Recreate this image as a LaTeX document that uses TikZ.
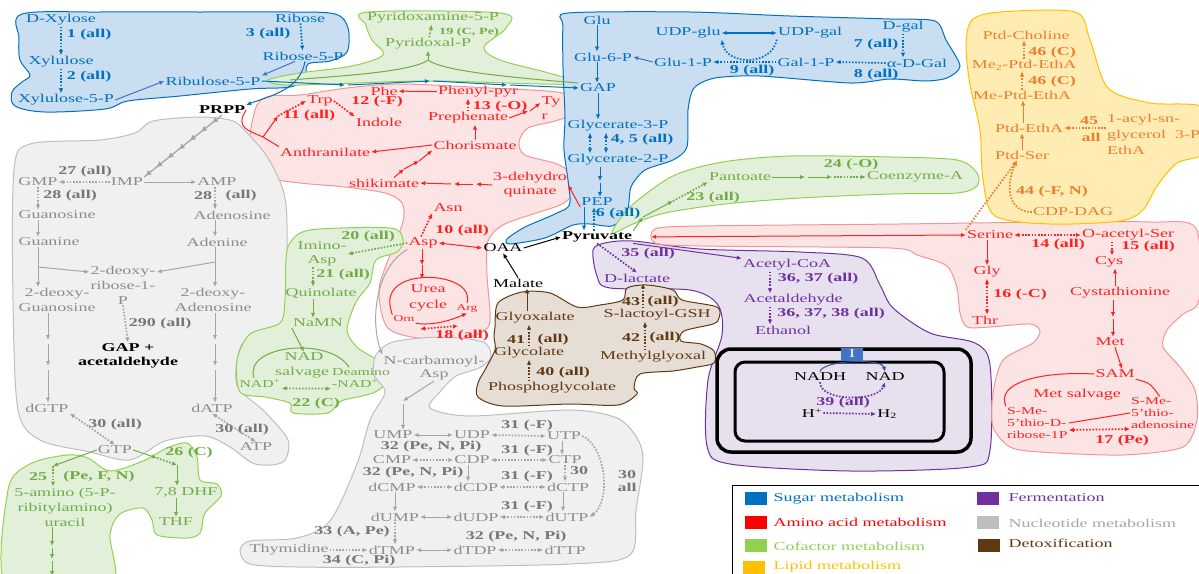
\documentclass[tikz,border=0pt]{standalone}
\usepackage{fontspec}
\setmainfont{Liberation Serif}[FakeStretch=1.5]
\usetikzlibrary{arrows.meta,decorations.markings}

\definecolor{sugC}{RGB}{0,112,192}
\definecolor{sugF}{RGB}{201,222,240}
\definecolor{amiC}{RGB}{255,32,32}
\definecolor{amiB}{RGB}{240,150,150}
\definecolor{amiF}{RGB}{252,228,228}
\definecolor{cofC}{RGB}{112,173,71}
\definecolor{cofB}{RGB}{146,208,80}
\definecolor{cofF}{RGB}{226,240,217}
\definecolor{lipC}{RGB}{237,125,49}
\definecolor{lipB}{RGB}{255,192,0}
\definecolor{lipF}{RGB}{255,236,178}
\definecolor{ferC}{RGB}{112,48,160}
\definecolor{ferF}{RGB}{231,225,239}
\definecolor{nucC}{RGB}{140,140,140}
\definecolor{nucA}{RGB}{166,166,166}
\definecolor{nucB}{RGB}{190,190,190}
\definecolor{nucF}{RGB}{240,240,240}
\definecolor{detC}{RGB}{96,57,19}
\definecolor{detF}{RGB}{230,221,213}
\definecolor{etcF}{RGB}{68,114,196}
\definecolor{etcC}{RGB}{47,85,151}

\newcommand{\mfont}{\fontsize{12}{13}\selectfont}
\newcommand{\smfont}{\fontsize{10.5}{12}\selectfont}
\newcommand{\tnfont}{\fontsize{9}{10}\selectfont}

\tikzset{
  met/.style={inner sep=1pt},
  bold/.style={font=\mfont\bfseries},
  sug/.style={met, text=sugC}, sugl/.style={sug, bold},
  ami/.style={met, text=amiC}, amil/.style={ami, bold},
  cof/.style={met, text=cofC}, cofl/.style={cof, bold},
  lip/.style={met, text=lipC}, lipl/.style={lip, bold},
  fer/.style={met, text=ferC}, ferl/.style={fer, bold},
  nuc/.style={met, text=nucC}, nucl/.style={met, text=nucC!85!black, bold},
  det/.style={met, text=detC}, detl/.style={det, bold},
  ar/.style={-{Latex[length=5pt,width=4.5pt]}, line width=1pt},
  dar/.style={{Latex[length=5pt,width=4.5pt]}-{Latex[length=5pt,width=4.5pt]}, line width=1pt},
  dt/.style={line width=1.7pt, dash pattern=on 1.6pt off 1.6pt},
  blob/.style={line width=1pt},
  keybox/.style={minimum width=22pt, minimum height=13pt, inner sep=0pt}
}

\begin{document}
\begin{tikzpicture}[x=1pt,y=-1pt,font=\mfont]
    \useasboundingbox (0,0) rectangle (1199,573);
    \clip (0,0) rectangle (1199,573);

    % Regions of the map
    \draw[blob,sugC,fill=sugF] plot[smooth cycle,tension=.55] coordinates {(22,14) (100,12) (200,12) (290,12) (335,14) (348,28) (347,52) (330,61) (308,64) (305,78) (290,87) (250,89) (180,96) (128,101) (105,109) (45,112) (15,106) (12,92) (22,82) (30,75) (20,60) (19,38)};
    \draw[blob,cofB,fill=cofF] plot[smooth cycle,tension=.55] coordinates {(368,12) (500,13) (506,28) (484,47) (500,60) (545,72) (580,83) (540,84) (430,81) (330,84) (285,85) (268,80) (300,73) (352,66) (383,55) (372,40) (366,25)};
    \draw[blob,amiB,fill=amiF] plot[smooth cycle,tension=.5] coordinates {(257,105) (270,96) (300,95) (347,88) (400,84) (490,88) (557,92) (573,100) (575,113) (555,121) (528,128) (519,142) (525,155) (557,164) (573,176) (572,195) (560,205) (533,214) (503,225) (488,241) (487,275) (490,322) (478,334) (457,339) (417,338) (387,327) (379,290) (390,255) (403,222) (402,203) (385,193) (345,187) (300,183) (265,177) (252,161) (250,135)};
    \draw[blob,nucB,fill=nucF] plot[smooth cycle,tension=.5] coordinates {(153,121) (200,117) (233,121) (250,136) (268,158) (283,190) (287,225) (284,317) (262,333) (241,346) (237,385) (265,412) (288,440) (283,462) (255,464) (230,447) (205,436) (165,441) (130,460) (90,452) (40,440) (18,410) (13,300) (14,170) (30,144) (100,140) (135,133)};
    \draw[blob,cofB,fill=cofF] plot[smooth cycle,tension=.5] coordinates {(8,490) (30,464) (67,455) (88,458) (110,471) (143,461) (167,448) (187,443) (197,457) (200,480) (217,484) (221,496) (205,513) (200,533) (187,538) (157,535) (152,520) (143,508) (120,514) (110,535) (110,590) (8,590)};
    \draw[blob,cofB,fill=cofF] plot[smooth cycle,tension=.5] coordinates {(290,243) (310,230) (390,228) (403,240) (397,252) (376,260) (370,283) (356,302) (347,330) (358,348) (385,365) (389,380) (373,393) (341,401) (328,413) (293,413) (290,403) (265,397) (240,392) (237,360) (250,334) (280,323) (285,300) (286,260)};
    \draw[blob,nucB,fill=nucF] plot[smooth cycle,tension=.5] coordinates {(376,355) (393,342) (440,337) (483,342) (491,357) (479,368) (456,376) (440,392) (430,408) (470,416) (570,410) (617,418) (637,438) (643,461) (636,510) (630,555) (570,564) (400,567) (297,567) (250,564) (240,551) (250,541) (297,538) (330,521) (357,464) (370,420) (385,392) (374,375)};
    \draw[blob,ferC,fill=ferF] plot[smooth cycle,tension=.5] coordinates {(633,241) (700,249) (800,252) (862,258) (880,285) (893,308) (930,333) (975,343) (990,365) (990,450) (970,467) (850,471) (730,464) (707,446) (708,380) (722,335) (718,305) (690,290) (610,288) (597,276) (593,250) (605,243)};
    \draw[blob,detC,fill=detF] plot[smooth cycle,tension=.5] coordinates {(498,303) (522,292) (550,293) (577,307) (600,305) (623,300) (627,288) (647,285) (673,290) (682,300) (717,307) (719,318) (713,324) (684,331) (681,341) (701,344) (714,351) (714,363) (697,367) (673,371) (640,374) (634,388) (637,394) (618,405) (570,404) (503,406) (478,397) (478,383) (486,368) (495,350) (494,337) (495,327)};
    \draw[blob,sugC,fill=sugF] plot[smooth cycle,tension=.45] coordinates {(568,13) (690,12) (790,16) (890,19) (935,21) (946,40) (960,66) (947,78) (925,81) (890,79) (850,83) (760,76) (715,78) (694,88) (688,110) (687,147) (673,160) (645,170) (631,187) (627,214) (612,226) (590,224) (573,225) (545,238) (510,244) (507,239) (525,227) (557,213) (570,202) (564,150) (565,117) (563,67) (563,25)};
    \draw[blob,cofB,fill=cofF] plot[smooth cycle,tension=.5] coordinates {(612,233) (630,207) (673,176) (723,162) (790,156) (890,157) (957,160) (977,173) (977,186) (957,193) (890,194) (800,198) (725,204) (665,213) (633,224)};
    \draw[blob,amiB,fill=amiF] plot[smooth cycle,tension=.45] coordinates {(655,229) (700,226) (900,224) (1050,222) (1150,222) (1196,228) (1199,300) (1183,314) (1167,330) (1163,347) (1180,367) (1195,390) (1197,420) (1183,447) (1123,455) (1040,452) (1010,447) (993,427) (993,393) (1003,360) (1033,343) (1040,331) (1030,324) (990,327) (967,327) (960,313) (957,288) (947,266) (917,255) (890,248) (700,246) (655,243)};
    \draw[blob,lipB,fill=lipF] plot[smooth cycle,tension=.5] coordinates {(966,45) (972,20) (1000,12) (1075,12) (1090,40) (1108,88) (1150,103) (1205,108) (1205,152) (1177,163) (1157,186) (1143,210) (1120,221) (1050,224) (995,216) (983,180) (980,130) (970,85)};

    % Pentose sugars
    \node[sug] (dxyl) at (61,20) {D-Xylose};
    \node[sug] (xylu) at (61,62) {Xylulose};
    \node[sug] (xyl5p) at (66,100) {Xylulose-5-P};
    \node[sug] (ribul) at (213,81) {Ribulose-5-P};
    \node[sug] (rib) at (300,18) {Ribose};
    \node[sug] (rib5p) at (303,56) {Ribose-5-P};
    \node[sugl] (l1) at (89,35) {1 (all)};
    \node[sugl] (l2) at (89,77) {2 (all)};
    \node[sugl] (l3) at (268,34) {3 (all)};
    \node[met,bold] (prpp) at (222,110) {PRPP};
    \draw[ar,dt,sugC] (dxyl) -- (xylu);
    \draw[ar,dt,sugC] (xylu.south) -- (xylu.south |- xyl5p.north);
    \draw[ar,dt,sugC] (rib) -- (rib5p);
    \draw[ar,etcF] (xyl5p.east) -- (ribul.west);
    \draw[ar,etcF] ([xshift=-8pt]rib5p.south) -- (ribul.north east);
    \draw[ar,sugC] ([xshift=2pt]rib5p.south) .. controls (300,90) and (270,96) .. (prpp.north east);

    % Pentose phosphate line to GAP
    \coordinate (pp1) at (345,85);
    \coordinate (pp2) at (430,81);
    \coordinate (pp3) at (507,85);

    % Pyridoxal
    \node[cof] (pdxa) at (433,18) {Pyridoxamine-5-P};
    \node[cof,font=\bfseries\fontsize{9.5}{10}\selectfont] (l19) at (469,32) {19 (C, Pe)};
    \node[cof] (pdxl) at (428,44) {Pyridoxal-P};
    \coordinate (pyl) at (290,80);
    \coordinate (pyj) at (428,60);
    \coordinate (pyr2) at (578,83);
    \draw[cofC,line width=1pt] (pyl) .. controls (340,76) and (412,72) .. (pyj) .. controls (444,72) and (520,78) .. (pyr2);
    \draw[ar,cofC] (pyj) -- (pdxl);
    \draw[ar,dt,cofC] (pdxl) -- (pdxa);

    % Glycolysis
    \node[sug] (glu) at (597,20) {Glu};
    \node[sug] (g6p) at (603,57) {Glu-6-P};
    \node[sug] (gap) at (598,88) {GAP};
    \node[sug] (g3p) at (618,126) {Glycerate-3-P};
    \node[sugl] (l45) at (642,140) {4, 5 (all)};
    \node[sug] (g2p) at (618,160) {Glycerate-2-P};
    \node[sug] (pep) at (597,202) {PEP};
    \node[sugl] (l6) at (618,214) {6 (all)};
    \node[met,bold] (pyr) at (597,237) {Pyruvate};
    \draw[ar,sugC] (ribul.east) -- (pp1);
    \draw[ar,sugC] ([xshift=3pt]pp1) -- (pp2);
    \draw[ar,sugC] ([xshift=3pt]pp2) -- (pp3);
    \draw[ar,sugC] ([xshift=3pt]pp3) -- (gap.west);
    \draw[ar,sugC] (glu.south) -- (glu.south |- g6p.north);
    \draw[ar,sugC] (glu.south |- g6p.south) -- (glu.south |- gap.north);
    \draw[ar,sugC] (gap.south) -- (gap.south |- g3p.north);
    \draw[dar,dt,sugC] ([xshift=-28pt]g3p.south) -- ([xshift=-28pt]g3p.south |- g2p.north);
    \draw[dar,dt,sugC] ([xshift=-12pt]g3p.south) -- ([xshift=-12pt]g3p.south |- g2p.north);
    \coordinate (gpm) at (600,181);
    \draw[ar,sugC] ([xshift=-18pt]g2p.south) -- (gpm);
    \draw[ar,sugC] ([yshift=-2pt]gpm) -- (gpm |- pep.north);
    \draw[ar,sugC] ([xshift=-13pt]pep.south) -- ([xshift=-13pt]pep.south |- pyr.north);
    \draw[ar,dt,sugC] ([xshift=-3pt]pyr.north) -- ([xshift=-3pt]pyr.north |- pep.south);

    % Galactose
    \node[sug] (udpglu) at (688,33) {UDP-glu};
    \node[sug] (udpgal) at (810,33) {UDP-gal};
    \node[sug] (g1p) at (683,62) {Glu-1-P};
    \node[sug] (gal1p) at (806,62) {Gal-1-P};
    \node[sugl] (l9) at (752,71) {9 (all)};
    \node[sug] (dgal) at (903,27) {D-gal};
    \node[sugl] (l7) at (876,45) {7 (all)};
    \node[sug] (adgal) at (917,63) {α-D-Gal};
    \node[sugl] (l8) at (876,75) {8 (all)};
    \draw[dar,sugC,line width=1.3pt] (udpglu.east) -- (udpgal.west);
    \draw[ar,dt,sugC] (gal1p.west) -- (g1p.east);
    \draw[ar,dt,sugC] (udpgal.south west) .. controls (772,66) and (727,66) .. (udpglu.south east);
    \draw[ar,etcF] (g1p.west) -- (g6p.east);
    \draw[ar,dt,sugC] (dgal.south) -- (dgal.south |- adgal.north);
    \draw[ar,dt,sugC] (adgal.west) -- (gal1p.east);

    % Aromatic amino acids
    \node[ami] (trp) at (320,101) {Trp};
    \node[ami] (indole) at (379,122) {Indole};
    \node[amil] (l12) at (377,102) {12 (-F)};
    \node[amil] (l11) at (309,116) {11 (all)};
    \node[ami] (phe) at (384,91) {Phe};
    \node[ami] (phpyr) at (478,92) {Phenyl-pyr};
    \node[ami] (preph) at (468,118) {Prephenate};
    \node[amil] (l13) at (500,107) {13 (-O)};
    \node[ami,align=left,font=\fontsize{12}{15}\selectfont] (tyr) at (551,108) {Ty\\r};
    \node[ami] (chor) at (475,145) {Chorismate};
    \node[ami] (anth) at (325,152) {Anthranilate};
    \node[ami] (shik) at (384,183) {shikimate};
    \node[ami,align=center,font=\fontsize{12}{14}\selectfont] (dhq) at (530,185) {3-dehydro\\quinate};
    \coordinate (trj) at (263,137);
    \coordinate (trk) at (278,116);
    \draw[amiC,line width=1pt] (prpp.east) .. controls (234,128) and (250,131) .. (trj);
    \draw[amiC,line width=1pt] (anth.north west) -- (trj);
    \draw[ar,amiC] (trj) -- (trk);
    \draw[ar,dt,amiC] (trk) -- (trp.west);
    \draw[ar,dt,amiC] (trp.east) -- (indole.north west);
    \draw[ar,amiC] (phpyr) -- (phe);
    \draw[ar,dt,amiC] (preph.north) -- (preph.north |- phpyr.south);
    \coordinate (tyrm) at (528,111);
    \draw[ar,amiC] (preph.east) -- (tyrm);
    \draw[ar,amiC] ([xshift=2pt]tyrm) -- ([yshift=5pt]tyr.west);
    \draw[ar,amiC] (chor.north) -- (chor.north |- preph.south);
    \draw[ar,amiC] (chor.west) -- (anth.east);
    \coordinate (sh1) at (404,169);
    \coordinate (sh2) at (419,161);
    \draw[ar,amiC] ([xshift=10pt]shik.north) -- (sh1);
    \draw[ar,amiC] (sh1) -- (sh2);
    \draw[ar,amiC] (sh2) -- (chor.south west);
    \coordinate (dq1) at (476,184);
    \coordinate (dq2) at (454,184);
    \draw[ar,amiC] (dhq.west) -- (dq1);
    \draw[ar,amiC] ([xshift=-3pt]dq1) -- (dq2);
    \draw[ar,amiC] ([xshift=-3pt]dq2) -- (shik.east);
    \draw[ar,amiC] (pep.south west) -- (dhq.east);

    % Aspartate and urea cycle
    \node[ami] (asn) at (448,208) {Asn};
    \node[amil] (l10) at (462,231) {10 (all)};
    \node[ami] (asp) at (423,243) {Asp};
    \node[met] (oaa) at (503,248) {OAA};
    \node[met] (mal) at (518,283) {Malate};
    \node[ami,align=center,font=\fontsize{12}{16}\selectfont] (urea) at (428,298) {Urea\\cycle};
    \node[ami,font=\tnfont] (orn) at (404,319) {Orn};
    \node[ami,font=\tnfont] (arg) at (467,308) {Arg};
    \node[amil] (l18) at (462,336) {18 (all)};
    \draw[ar,dt,amiC] ([xshift=-2pt]asp.north) -- (asn.south west);
    \draw[dar,amiC] (asp.east) -- (oaa.west);
    \coordinate (asp1) at (422,265);
    \coordinate (ureatop) at (422,279);
    \draw[ar,amiC] (asp.south -| asp1) -- (asp1);
    \draw[ar,amiC] (asp1) -- (ureatop);
    \draw[amiC,line width=1pt] (arg.north) .. controls (476,274) and (396,266) .. (390,298) .. controls (389,305) and (391,310) .. (orn.north west);
    \draw[ar,amiC] (orn.south east) .. controls (430,326) and (450,321) .. (arg.south);
    \coordinate (u18a) at (420,329);
    \coordinate (u18b) at (458,326);
    \draw[dar,dt,amiC] (u18a) -- (u18b);
    \draw[ar] (oaa.east) -- (pyr.west);
    \draw[ar] (mal.north) -- (oaa.south);

    % Purines
    \node[nuc] (gmp) at (38,182) {GMP};
    \node[nuc] (imp) at (127,182) {IMP};
    \node[nuc] (amp) at (217,182) {AMP};
    \node[nucl] (l27) at (85,172) {27 (all)};
    \node[nucl] (l28a) at (70,196) {28 (all)};
    \node[nucl] (l28b) at (203,196) {28};
    \node[nucl] (l28c) at (241,196) {(all)};
    \node[nuc] (guo) at (57,215) {Guanosine};
    \node[nuc] (ado) at (232,215) {Adenosine};
    \node[nuc] (gua) at (49,242) {Guanine};
    \node[nuc] (ade) at (217,242) {Adenine};
    \node[nuc,align=center,font=\fontsize{12}{15}\selectfont] (drib) at (123,285) {2-deoxy-\\ribose-1-\\P};
    \node[nuc,align=center,font=\fontsize{12}{15}\selectfont] (dguo) at (57,300) {2-deoxy-\\Guanosine};
    \node[nuc,align=center,font=\fontsize{12}{15}\selectfont] (dado) at (213,300) {2-deoxy-\\Adenosine};
    \node[nucl] (l290) at (160,324) {290 (all)};
    \node[met,font=\bfseries\fontsize{12}{14}\selectfont,align=center] (gapac) at (128,356) {GAP +\\acetaldehyde};
    \node[nuc] (dgtp) at (47,408) {dGTP};
    \node[nuc] (datp) at (212,408) {dATP};
    \node[nuc] (gtp) at (115,450) {GTP};
    \node[nuc] (atp) at (256,447) {ATP};
    \node[nucl] (l30a) at (115,425) {30 (all)};
    \node[nucl] (l30b) at (242,430) {30 (all)};
    \draw[nucA, line width=1.3pt, decoration={markings, mark=between positions 0.13 and 0.99 step 0.143 with {\arrow{Latex[length=6pt,width=6pt]}}}, postaction={decorate}] (prpp.south) -- (imp.north east);
    \draw[ar,dt,nucA] (imp.west) -- (gmp.east);
    \draw[ar,nucA] (imp.east) -- (amp.west);
    \coordinate (gbr) at (38,267);
    \coordinate (abr) at (215,262);
    \draw[ar,dt,nucA] (gbr |- gmp.south) -- (gbr |- guo.north);
    \draw[ar,nucA] (gbr |- guo.south) -- (gbr |- gua.north);
    \draw[ar,nucA] (gbr |- gua.south) -- (gbr |- dguo.north);
    \draw[ar,nucA] (gbr) -- ([yshift=13pt]drib.west);
    \draw[ar,dt,nucA] (abr |- amp.south) -- (abr |- ado.north);
    \draw[ar,nucA] (abr |- ado.south) -- (abr |- ade.north);
    \draw[ar,nucA] (abr |- ade.south) -- (abr |- dado.north);
    \draw[ar,nucA] (abr) -- ([yshift=13pt]drib.east);
    \draw[ar,dt,nucA] (drib.south) -- (gapac.north);
    \coordinate (dg1) at (48,340);
    \coordinate (dg2) at (48,366);
    \draw[ar,nucA] (dg1 |- dguo.south) -- (dg1);
    \draw[ar,nucA] ([yshift=-4pt]dg1) -- (dg2);
    \draw[ar,nucA] ([yshift=-4pt]dg2) -- (dg2 |- dgtp.north);
    \coordinate (da1) at (215,340);
    \coordinate (da2) at (215,366);
    \draw[ar,nucA] (da1 |- dado.south) -- (da1);
    \draw[ar,nucA] ([yshift=-4pt]da1) -- (da2);
    \draw[ar,nucA] ([yshift=-4pt]da2) -- (da2 |- datp.north);
    \draw[dar,dt,nucA] (dgtp.south east) -- (gtp.north);
    \draw[dar,dt,nucA] (datp.south) -- (atp.north);

    % Riboflavin and folate
    \node[cofl] (l25a) at (38,477) {25};
    \node[cofl] (l25b) at (99,477) {(Pe, F, N)};
    \node[cof,align=center,font=\fontsize{12}{15}\selectfont] (amino) at (65,507) {5-amino (5-P-\\ribitylamino)\\uracil};
    \node[cofl] (l26) at (189,453) {26 (C)};
    \node[cof] (dhf) at (186,492) {7,8 DHF};
    \node[cof] (thf) at (176,522) {THF};
    \coordinate (g25) at (53,466);
    \draw[ar,cofC] (gtp.west) -- (g25);
    \draw[ar,dt,cofC] (g25) -- (g25 |- amino.north);
    \coordinate (ur1) at (52,546);
    \coordinate (ur2) at (52,559);
    \coordinate (ur3) at (52,576);
    \draw[ar,cofC] (amino.south -| ur1) -- (ur1);
    \draw[ar,cofC] ([yshift=-2pt]ur1) -- (ur2);
    \draw[ar,cofC] ([yshift=-2pt]ur2) -- (ur3);
    \coordinate (g26) at (157,458);
    \coordinate (g26b) at (177,465);
    \draw[ar,cofC] (gtp.east) -- (g26);
    \draw[ar,dt,cofC] (g26) -- (g26b);
    \draw[ar,cofC] (g26b) -- (g26b |- dhf.north);
    \draw[ar,cofC] (thf.north |- dhf.south) -- (thf.north);

    % NAD synthesis
    \node[cof,align=center,font=\fontsize{12}{14}\selectfont] (imasp) at (322,254) {Imino-\\Asp};
    \node[cofl] (l20) at (368,237) {20 (all)};
    \node[cofl] (l21) at (343,275) {21 (all)};
    \node[cof] (quin) at (321,293) {Quinolate};
    \node[cof] (namn) at (318,323) {NaMN};
    \node[cof] (nad) at (304,357) {NAD};
    \node[cof] (salv) at (302,373) {salvage};
    \node[cof,align=left,anchor=west,font=\smfont] (deam) at (331,378) {Deamino\\-NAD\textsuperscript{+}};
    \node[cof,font=\smfont] (nadp) at (260,383) {NAD\textsuperscript{+}};
    \node[cofl] (l22) at (316,404) {22 (C)};
    \draw[ar,dt,cofC] (asp.west) -- (imasp.east);
    \draw[ar,dt,cofC] ([xshift=-9pt]imasp.south) -- ([xshift=-9pt]imasp.south |- quin.north);
    \draw[ar,cofC] ([xshift=-8pt]quin.south) -- ([xshift=-8pt]quin.south |- namn.north);
    \draw[ar,cofC] (namn.south west) -- (nad.north);
    \draw[cofC,line width=1pt] ([xshift=-6pt]nadp.north) .. controls (243,345) and (330,336) .. ([xshift=18pt]deam.north west);
    \draw[dar,dt,cofC] (nadp.south east) -- (deam.south west);

    % Pyrimidines
    \node[nuc,align=center] (ncasp) at (434,368) {N-carbamoyl-\\Asp};
    \node[nuc] (ump) at (393,435) {UMP};
    \node[nuc] (udp) at (472,435) {UDP};
    \node[nuc] (utp) at (564,436) {UTP};
    \node[nuc] (cmp) at (392,460) {CMP};
    \node[nuc] (cdp) at (472,460) {CDP};
    \node[nuc] (ctp) at (565,460) {CTP};
    \node[nuc] (dcmp) at (392,487) {dCMP};
    \node[nuc] (dcdp) at (476,487) {dCDP};
    \node[nuc] (dctp) at (568,487) {dCTP};
    \node[nuc] (dump) at (395,517) {dUMP};
    \node[nuc] (dudp) at (476,517) {dUDP};
    \node[nuc] (dutp) at (567,517) {dUTP};
    \node[nuc] (thym) at (289,550) {Thymidine};
    \node[nuc] (dtmp) at (392,550) {dTMP};
    \node[nuc] (dtdp) at (475,550) {dTDP};
    \node[nuc] (dttp) at (565,550) {dTTP};
    \node[nucl] (l32a) at (431,447) {32 (Pe, N, Pi)};
    \node[nucl] (l31a) at (527,426) {31 (-F)};
    \node[nucl] (l31b) at (527,451) {31 (-F)};
    \node[nucl] (l32b) at (413,473) {32 (Pe, N, Pi)};
    \node[nucl] (l30c) at (579,471) {30};
    \node[nucl] (l31c) at (527,477) {31 (-F)};
    \node[nucl] (l31d) at (527,507) {31 (-F)};
    \node[nucl,align=center] (l30d) at (627,481) {30\\all};
    \node[nucl] (l33) at (352,532) {33 (A, Pe)};
    \node[nucl] (l34) at (359,561) {34 (C, Pi)};
    \node[nucl] (l32c) at (516,537) {32 (Pe, N, Pi)};
    \draw[ar,nucA] (asp.south west) .. controls (375,268) and (370,322) .. (ncasp.north west);
    \coordinate (ncu) at (403,401);
    \draw[ar,nucA] (ncasp.south) -- (ncu);
    \draw[ar,nucA] ([yshift=-3pt]ncu) -- (ncu |- ump.north);
    \draw[dar,nucA] (ump.east) -- (udp.west);
    \draw[dar,dt,nucA] (udp.east) -- (utp.west);
    \draw[dar,dt,nucA] (cmp.east) -- (cdp.west);
    \draw[dar,dt,nucA] (cdp.east) -- (ctp.west);
    \draw[dar,dt,nucA] (dcmp.east) -- (dcdp.west);
    \draw[dar,dt,nucA] (dcdp.east) -- (dctp.west);
    \draw[dar,nucA] (dump.east) -- (dudp.west);
    \draw[dar,dt,nucA] (dudp.east) -- (dutp.west);
    \draw[ar,dt,nucA] (thym.east) -- (dtmp.west);
    \draw[dar,nucA] (dtmp.east) -- (dtdp.west);
    \draw[dar,dt,nucA] (dtdp.east) -- (dttp.west);
    \draw[ar,nucA] ([xshift=-2pt]utp.south) -- ([xshift=-2pt]utp.south |- ctp.north);
    \draw[ar,dt,nucA] (ctp.south) -- (ctp.south |- dctp.north);
    \draw[ar,nucA] ([xshift=-4pt]cdp.south) -- ([xshift=-4pt]cdp.south |- dcdp.north);
    \draw[ar,nucA] (dcmp.south -| dump) -- (dump.north);
    \draw[ar,nucA] ([xshift=-5pt]dctp.south) -- ([xshift=-5pt]dctp.south |- dutp.north);
    \draw[ar,dt,nucA] (dump.south) -- (dump.south |- dtmp.north);
    \draw[ar,dt,nucA] (utp.east) .. controls (605,445) and (612,500) .. (dutp.east);

    % Detoxification
    \node[det] (glyox) at (535,318) {Glyoxalate};
    \node[det] (glyc) at (529,353) {Glycolate};
    \node[det] (pglyc) at (552,388) {Phosphoglycolate};
    \node[detl] (l41a) at (516,340) {41};
    \node[detl] (l41b) at (553,340) {(all)};
    \node[detl] (l40) at (563,373) {40 (all)};
    \node[det] (mgo) at (653,357) {Methylglyoxal};
    \node[det] (slgsh) at (657,315) {S-lactoyl-GSH};
    \node[detl] (l42a) at (631,338) {42};
    \node[detl] (l42b) at (665,338) {(all)};
    \node[detl] (l43a) at (631,302) {43};
    \node[detl] (l43b) at (663,302) {(all)};
    \node[fer] (dlac) at (637,278) {D-lactate};
    \draw[ar,dt,detC] (glyc.north) -- (glyc.north |- glyox.south);
    \draw[ar,dt,detC] (glyc.south |- pglyc.north) -- (glyc.south);
    \draw[ar,detC] ([xshift=-8pt]glyox.north) -- ([xshift=-8pt]glyox.north |- mal.south);
    \draw[ar,dt,detC] ([xshift=-8pt]mgo.north) -- ([xshift=-8pt]mgo.north |- slgsh.south);
    \draw[ar,dt,detC] ([xshift=-14pt]slgsh.north) -- ([xshift=-14pt]slgsh.north |- dlac.south);

    % Fermentation
    \node[ferl] (l35) at (648,254) {35 (all)};
    \node[fer] (acoa) at (787,265) {Acetyl-CoA};
    \node[ferl] (l3637) at (818,279) {36, 37 (all)};
    \node[fer] (acald) at (793,300) {Acetaldehyde};
    \node[ferl] (l363738) at (831,314) {36, 37, 38 (all)};
    \node[fer] (etoh) at (783,330) {Ethanol};
    \draw[ar,dt,ferC] (pyr.south) -- (dlac.north);
    \draw[ar,ferC] (pyr.south east) -- (acoa.north west);
    \draw[ar,dt,ferC] ([xshift=-17pt]acoa.south) -- ([xshift=-17pt]acoa.south |- acald.north);
    \draw[ar,dt,ferC] ([xshift=-23pt]acald.south) -- ([xshift=-23pt]acald.south |- etoh.north);

    % Membrane with complex I
    \draw[line width=3.5pt, rounded corners=14pt] (717,349) rectangle (971,452);
    \draw[line width=3pt, rounded corners=10pt] (735,362) rectangle (944,441);
    \node[met] (nadh) at (820,377) {NADH};
    \node[met] (nadox) at (885,377) {NAD};
    \node[met] (hplus) at (812,413) {H\textsuperscript{+}};
    \node[met] (htwo) at (887,414) {H\textsubscript{2}};
    \node[ferl] (l39) at (843,403) {39 (all)};
    \draw[ar,etcC] (nadh.north) .. controls (822,360) and (882,358) .. (nadox.north);
    \node[keybox,fill=etcF,text=white] (cplx) at (852,354) {I};
    \draw[ar,dt,ferC] (nadh.south) .. controls (820,402) and (878,402) .. (nadox.south);
    \draw[ar,dt,ferC] (hplus.east) -- (htwo.west);

    % Pantothenate
    \node[cof] (pant) at (740,177) {Pantoate};
    \node[cof] (coa) at (915,177) {Coenzyme-A};
    \node[cofl] (l24) at (851,165) {24 (-O)};
    \node[cofl] (l23) at (713,198) {23 (all)};
    \coordinate (pt1) at (805,177);
    \coordinate (pt2) at (832,177);
    \draw[ar,cofC] (pant.east) -- (pt1);
    \draw[ar,cofC] ([xshift=3pt]pt1) -- (pt2);
    \draw[ar,dt,cofC] ([xshift=2pt]pt2) -- (coa.west);
    \coordinate (pa1) at (643,217);
    \coordinate (pa2) at (673,201);
    \draw[ar,cofC] (pyr.north east) -- (pa1);
    \draw[ar,cofC] (pa1) -- (pa2);
    \draw[ar,dt,cofC] (pa2) -- (pant.south west);

    % Lipids
    \node[lip] (ptdcho) at (1026,35) {Ptd-Choline};
    \node[lipl] (l46a) at (1052,53) {46 (C)};
    \node[lip] (me2) at (1024,65) {Me\textsubscript{2}-Ptd-EthA};
    \node[lipl] (l46b) at (1052,82) {46 (C)};
    \node[lip] (me1) at (1022,95) {Me-Ptd-EthA};
    \node[lip] (ptdeth) at (1029,128) {Ptd-EthA};
    \node[lip] (ptdser) at (1022,155) {Ptd-Ser};
    \node[lipl] (l45a) at (1089,121) {45};
    \node[lipl] (l45b) at (1091,137) {all};
    \node[lip,align=left,anchor=west,font=\fontsize{12}{16}\selectfont] (acyl) at (1106,134) {1-acyl-sn-\\glycerol~~3-P\\EthA};
    \node[lipl] (l44) at (1052,192) {44 (-F, N)};
    \node[lip] (cdpdag) at (1073,212) {CDP-DAG};
    \draw[ar,dt,lipC] (me2.north) -- (me2.north |- ptdcho.south);
    \draw[ar,dt,lipC] (me1.north) -- (me1.north |- me2.south);
    \draw[ar,lipC] ([xshift=-6pt]ptdeth.north) -- ([xshift=-6pt]ptdeth.north |- me1.south);
    \draw[ar,lipC] (ptdser.north) -- (ptdser.north |- ptdeth.south);
    \draw[ar,dt,lipC] (acyl.west |- ptdeth.east) -- (ptdeth.east);
    \draw[ar,dt,lipC] (cdpdag.west) .. controls (1008,212) and (1005,186) .. ([xshift=-5pt]ptdser.south);

    % Serine, cysteine and methionine
    \node[ami] (ser) at (990,235) {Serine};
    \node[ami] (oaser) at (1128,235) {O-acetyl-Ser};
    \node[amil] (l14) at (1058,245) {14 (all)};
    \node[amil] (l15) at (1148,247) {15 (all)};
    \node[ami] (cys) at (1109,262) {Cys};
    \node[ami] (cysta) at (1120,293) {Cystathionine};
    \node[ami] (met) at (1110,342) {Met};
    \node[ami] (sam) at (1115,374) {SAM};
    \node[ami] (mets) at (1077,395) {Met salvage};
    \node[ami,align=left,anchor=west,font=\smfont] (mtr) at (1006,423) {S-Me-\\5’thio-D-\\ribose-1P};
    \node[ami,align=left,anchor=west,font=\smfont] (mta) at (1130,413) {S-Me-\\5’thio-\\adenosine};
    \node[amil] (l17) at (1122,441) {17 (Pe)};
    \node[ami] (gly) at (987,272) {Gly};
    \node[amil] (l16) at (1020,295) {16 (-C)};
    \node[ami] (thr) at (985,320) {Thr};
    \draw[dar,amiC,shorten <=18pt] (pyr.east) -- (ser.west);
    \draw[ar,dt,lipC] (ser.north west) -- ([xshift=-5pt]ptdser.south);
    \draw[dar,dt,amiC] (ser.east) -- (oaser.west);
    \draw[ar,dt,amiC] ([xshift=-16pt]oaser.south) -- ([xshift=-16pt]oaser.south |- cys.north);
    \draw[ar,amiC] ([xshift=-5pt]cysta.north) -- ([xshift=-5pt]cysta.north |- cys.south);
    \coordinate (cm1) at (1113,317);
    \draw[ar,amiC] (cm1 |- cysta.south) -- (cm1);
    \draw[ar,amiC] ([yshift=-2pt]cm1) -- (cm1 |- met.north);
    \draw[ar,amiC] ([xshift=5pt]met.south) -- ([xshift=7pt]sam.north);
    \draw[ar,amiC] (gly |- ser.south) -- (gly.north);
    \draw[dar,dt,amiC] (gly.south) -- (gly.south |- thr.north);
    \draw[amiC,line width=1pt] (sam.west) .. controls (1040,371) and (995,383) .. (mtr.north west);
    \draw[amiC,line width=1pt] (sam.south east) .. controls (1150,383) .. ([xshift=-3pt]mta.north);
    \draw[amiC,line width=1pt] (mtr.east) -- (mta.west);
    \draw[dar,dt,amiC] ([yshift=-7pt]mtr.east) -- ([yshift=-16pt]mta.west);

    % Legend
    \draw[line width=1pt] (732,485) rectangle (1210,590);
    \node[keybox,fill=sugC] (ksug) at (756,498) {};
    \node[anchor=west,text=sugC] (tsug) at (770,499) {Sugar metabolism};
    \node[keybox,fill=red] (kami) at (756,522) {};
    \node[anchor=west,text=red] (tami) at (770,522) {Amino acid metabolism};
    \node[keybox,fill=cofB] (kcof) at (756,545) {};
    \node[anchor=west,text=cofB] (tcof) at (770,546) {Cofactor metabolism};
    \node[keybox,fill=lipB] (klip) at (754,567) {};
    \node[anchor=west,text=lipB] (tlip) at (770,567) {Lipid metabolism};
    \node[keybox,fill=ferC] (kfer) at (988,498) {};
    \node[anchor=west,text=ferC] (tfer) at (1005,498) {Fermentation};
    \node[keybox,fill=nucB] (knuc) at (988,522) {};
    \node[anchor=west,text=nucA] (tnuc) at (1005,523) {Nucleotide metabolism};
    \node[keybox,fill=detC] (kdet) at (989,545) {};
    \node[anchor=west,text=detC] (tdet) at (1005,543) {Detoxification};

\end{tikzpicture}
\end{document}
